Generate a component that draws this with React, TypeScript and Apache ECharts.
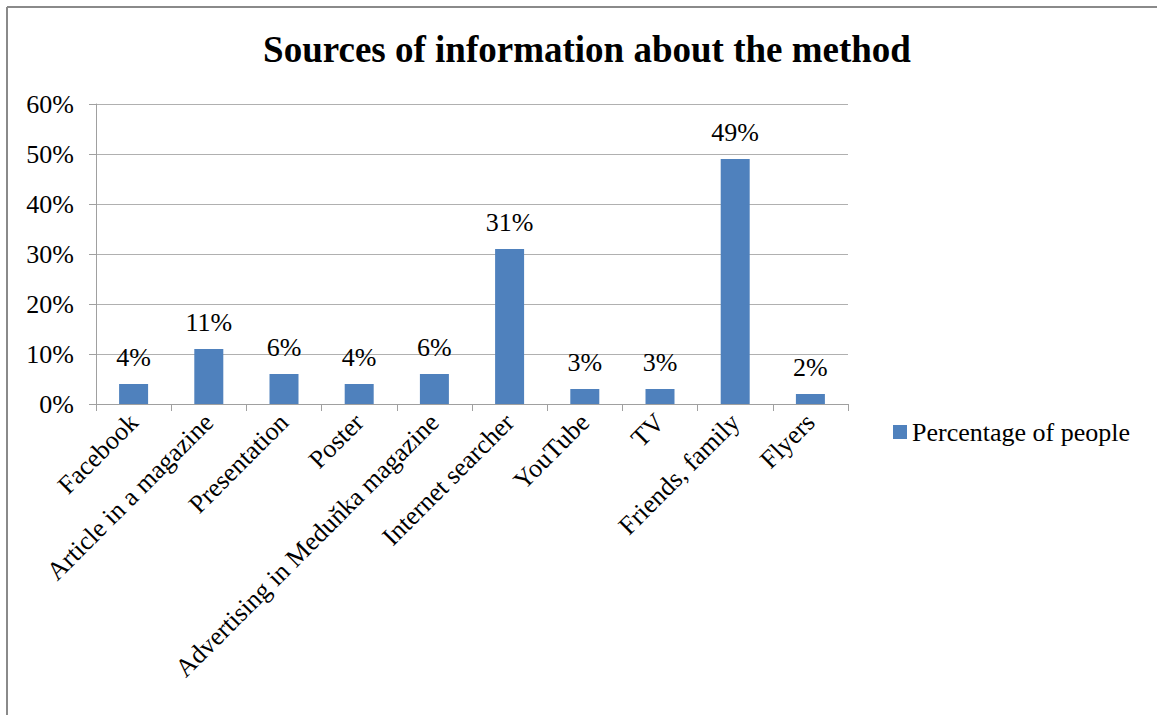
import React, { useEffect, useRef } from "react";
import * as echarts from "echarts";

const categories = [
  "Facebook",
  "Article in a magazine",
  "Presentation",
  "Poster",
  "Advertising in Meduňka magazine",
  "Internet searcher",
  "YouTube",
  "TV",
  "Friends, family",
  "Flyers",
];
const values = [4, 11, 6, 4, 6, 31, 3, 3, 49, 2];
const seriesName = "Percentage of people";
const titleText = "Sources of information about the method";

const FONT = "'Liberation Serif', 'Times New Roman', serif";

export default function App() {
  const ref = useRef<HTMLDivElement>(null);
  useEffect(() => {
    if (!ref.current) return;
    const chart = echarts.init(ref.current, undefined, { renderer: "svg" });
    chart.setOption({
      animation: false,
      backgroundColor: "#ffffff",
      title: {
        text: titleText,
        left: 582,
        top: 26,
        textAlign: "center",
        textStyle: { fontFamily: FONT, fontWeight: "bold", fontSize: 37, color: "#000" },
      },
      legend: {
        data: [seriesName],
        left: 893,
        top: 419,
        padding: 0,
        icon: "rect",
        itemWidth: 14,
        itemHeight: 14,
        textStyle: { fontFamily: FONT, fontSize: 26, color: "#000" },
      },
      grid: { left: 96, right: 309, top: 104, bottom: 311, containLabel: false },
      xAxis: {
        type: "category",
        data: categories,
        boundaryGap: true,
        axisLine: { show: true, lineStyle: { color: "#a0a0a0", width: 1 } },
        axisTick: { show: true, length: 7, alignWithLabel: false, lineStyle: { color: "#a0a0a0" } },
        axisLabel: {
          rotate: 45,
          interval: 0,
          margin: 14,
          fontFamily: FONT,
          fontSize: 26,
          color: "#000",
        },
        splitLine: { show: false },
      },
      yAxis: {
        type: "value",
        min: 0,
        max: 60,
        interval: 10,
        axisLine: { show: true, lineStyle: { color: "#a0a0a0", width: 1 } },
        axisTick: { show: true, length: 7, lineStyle: { color: "#a0a0a0" } },
        axisLabel: {
          formatter: "{value}%",
          margin: 22,
          fontFamily: FONT,
          fontSize: 26,
          color: "#000",
        },
        splitLine: { show: true, lineStyle: { color: "#b0b0b0", width: 1 } },
      },
      series: [
        {
          name: seriesName,
          type: "bar",
          data: values,
          barWidth: 29,
          itemStyle: { color: "#4f81bd" },
          label: {
            show: true,
            position: "top",
            distance: 14,
            formatter: "{c}%",
            fontFamily: FONT,
            fontSize: 26,
            color: "#000",
          },
        },
      ],
      graphic: [
        {
          type: "line",
          shape: { x1: 7, y1: 7, x2: 1157, y2: 7 },
          style: { stroke: "#8a8a8a", lineWidth: 2 },
        },
        {
          type: "line",
          shape: { x1: 7, y1: 7, x2: 7, y2: 715 },
          style: { stroke: "#8a8a8a", lineWidth: 2 },
        },
      ],
    });
    return () => chart.dispose();
  }, []);
  return (
    <div
      ref={ref}
      style={{ position: "absolute", left: 0, top: 0, width: 1157, height: 715 }}
    />
  );
}
